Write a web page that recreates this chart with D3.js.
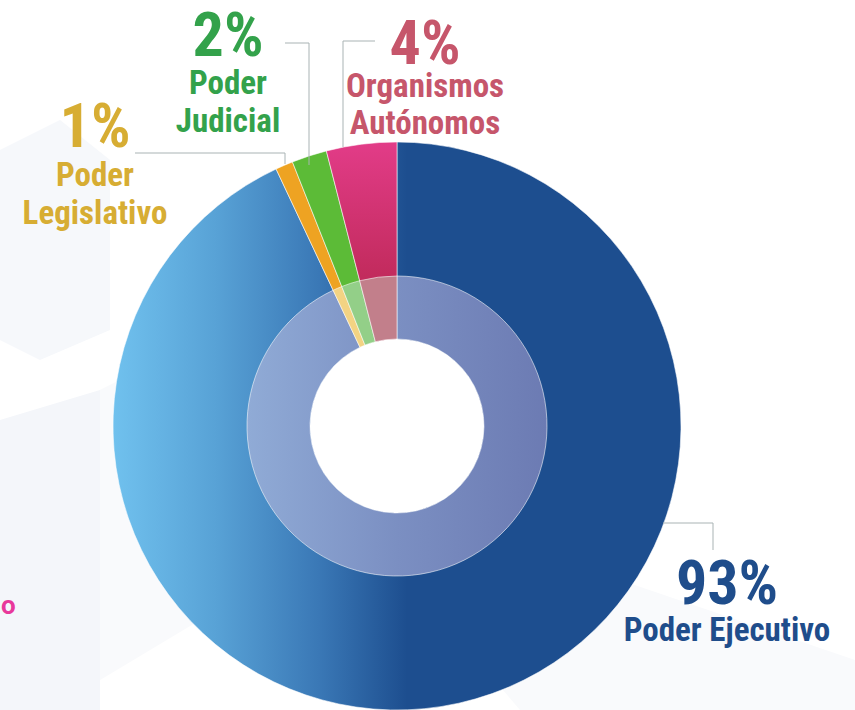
<!DOCTYPE html>
<meta charset="utf-8">
<style>
  body { margin: 0; background: #fff; }
  text { font-family: "Liberation Sans Narrow", "Arial Narrow", "Roboto Condensed", Roboto, sans-serif; font-weight: bold; }
</style>
<body>
<script src="https://cdnjs.cloudflare.com/ajax/libs/d3/7.8.5/d3.min.js"></script>
<script>
  // data
  var names = ["Poder Ejecutivo", "Poder Legislativo", "Poder Judicial", "Organismos Autónomos"];
  var shares = [93, 1, 2, 4];
  var percentLabels = ["93%", "1%", "2%", "4%"];
  var nameLines = [["Poder Ejecutivo"], ["Poder", "Legislativo"], ["Poder", "Judicial"], ["Organismos", "Autónomos"]];

  // styles
  var outerFill = ["url(#gBlue)", "#eea322", "#5cbb37", "url(#gPink)"];
  var innerFill = ["url(#gBlueIn)", "#f3d383", "#93cf88", "#c27f8b"];
  var textColor = ["#1f4d8b", "#d7ad33", "#33a24b", "#c6566b"];

  // label layout: anchor x, percent baseline y, name baselines, leader polyline
  var labelPos = [
    {x: 727, y: 604, lines: [641], leader: [[663, 523], [713, 523], [713, 550]]},
    {x: 95,  y: 147, lines: [186, 224], leader: [[135, 153], [285, 153], [285, 164]]},
    {x: 228, y: 56,  lines: [94, 132], leader: [[285, 43], [309, 43], [309, 165]]},
    {x: 425, y: 64,  lines: [97, 134], leader: [[375, 41], [343, 41], [343, 147]]}
  ];

  var width = 855, height = 710;
  var cx = 397, cy = 426, rOut = 284, rMid = 150, rIn = 87;

  var svg = d3.select("body").append("svg")
      .attr("width", width)
      .attr("height", height);

  var defs = svg.append("defs");

  // gradients are used inside the centred group, so coordinates are relative to the centre
  var gb = defs.append("linearGradient").attr("id", "gBlue")
      .attr("gradientUnits", "userSpaceOnUse")
      .attr("x1", -rOut).attr("y1", 0).attr("x2", 10).attr("y2", 0);
  gb.append("stop").attr("offset", 0).attr("stop-color", "#70c1ee");
  gb.append("stop").attr("offset", 0.35).attr("stop-color", "#58a2d6");
  gb.append("stop").attr("offset", 0.7).attr("stop-color", "#3a78b6");
  gb.append("stop").attr("offset", 1).attr("stop-color", "#1d4e8f");

  var gbi = defs.append("linearGradient").attr("id", "gBlueIn")
      .attr("gradientUnits", "userSpaceOnUse")
      .attr("x1", -rMid).attr("y1", 0).attr("x2", rMid).attr("y2", 0);
  gbi.append("stop").attr("offset", 0).attr("stop-color", "#90abd6");
  gbi.append("stop").attr("offset", 0.5).attr("stop-color", "#7b8fc2");
  gbi.append("stop").attr("offset", 1).attr("stop-color", "#6c7bb3");

  var gp = defs.append("linearGradient").attr("id", "gPink")
      .attr("gradientUnits", "userSpaceOnUse")
      .attr("x1", 0).attr("y1", -rOut).attr("x2", 0).attr("y2", -rMid);
  gp.append("stop").attr("offset", 0).attr("stop-color", "#e23c88");
  gp.append("stop").attr("offset", 1).attr("stop-color", "#c22b5d");

  // faint background shapes
  var bg = svg.append("g");
  bg.append("polygon").attr("points", "0,150 60,120 110,160 110,330 40,360 0,340").attr("fill", "#f6f8fb");
  bg.append("polygon").attr("points", "0,420 100,390 100,710 0,710").attr("fill", "#f4f6fa");
  bg.append("polygon").attr("points", "100,390 200,340 200,620 100,680").attr("fill", "#f9fafc");
  bg.append("polygon").attr("points", "460,640 620,580 855,660 855,710 520,710").attr("fill", "#f9fafc");

  var pie = d3.pie().sort(null).value(function(d) { return d; });
  var arcs = pie(shares);

  var arcOut = d3.arc().innerRadius(rIn).outerRadius(rOut);
  var arcMid = d3.arc().innerRadius(rIn).outerRadius(rMid);

  var g = svg.append("g").attr("transform", "translate(" + cx + "," + cy + ")");

  g.selectAll("path.out")
    .data(arcs)
    .enter().append("path")
      .attr("class", "out")
      .attr("d", arcOut)
      .attr("fill", function(d, i) { return outerFill[i]; })
      .attr("stroke", "rgba(255,255,255,0.7)")
      .attr("stroke-width", 0.8);

  g.selectAll("path.mid")
    .data(arcs)
    .enter().append("path")
      .attr("class", "mid")
      .attr("d", arcMid)
      .attr("fill", function(d, i) { return innerFill[i]; })
      .attr("stroke", "rgba(255,255,255,0.7)")
      .attr("stroke-width", 0.8);

  // leader lines
  var line = d3.line();
  svg.selectAll("path.leader")
    .data(labelPos)
    .enter().append("path")
      .attr("class", "leader")
      .attr("d", function(d) { return line(d.leader); })
      .attr("fill", "none")
      .attr("stroke", "#a9b3b4")
      .attr("stroke-width", 1);

  // labels
  var lab = svg.selectAll("g.lab")
    .data(names)
    .enter().append("g")
      .attr("class", "lab");

  lab.append("text")
    .attr("x", function(d, i) { return labelPos[i].x; })
    .attr("y", function(d, i) { return labelPos[i].y; })
    .attr("text-anchor", "middle")
    .attr("font-size", 62)
    .attr("fill", function(d, i) { return textColor[i]; })
    .text(function(d, i) { return percentLabels[i]; });

  lab.each(function(d, i) {
    var sel = d3.select(this);
    nameLines[i].forEach(function(t, j) {
      sel.append("text")
        .attr("x", labelPos[i].x)
        .attr("y", labelPos[i].lines[j])
        .attr("text-anchor", "middle")
        .attr("font-size", 33)
        .attr("fill", textColor[i])
        .text(t);
    });
  });

  // cut-off word at the left edge
  svg.append("text")
    .attr("x", 1).attr("y", 614)
    .attr("font-size", 26)
    .attr("fill", "#e8389b")
    .style("font-family", "Roboto, sans-serif")
    .text("o");
</script>
</body>
